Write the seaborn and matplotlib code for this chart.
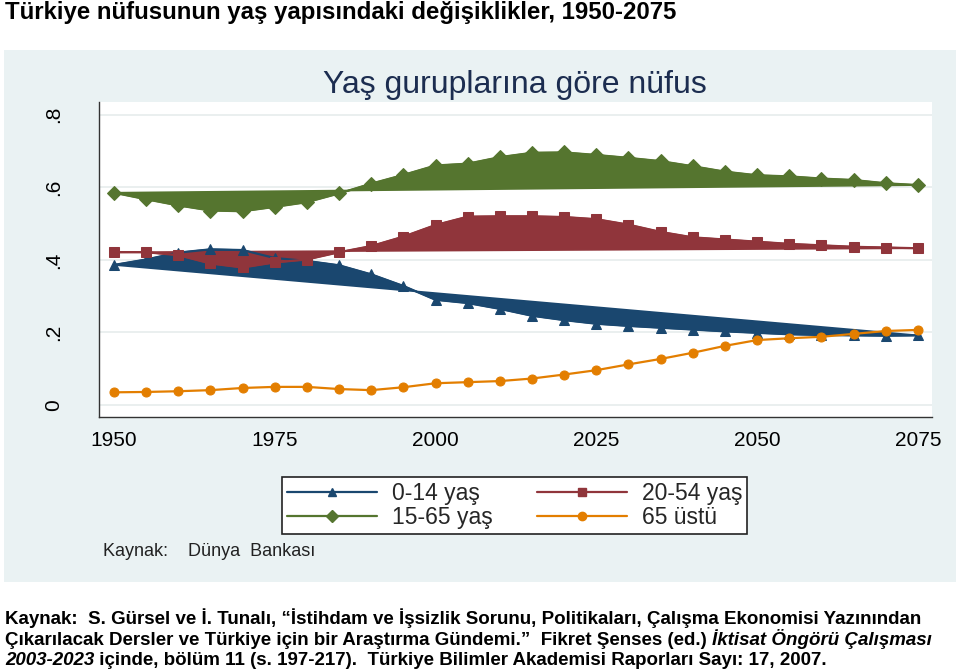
import matplotlib
matplotlib.use("Agg")
import matplotlib.pyplot as plt
import seaborn as sns
import pandas as pd
from matplotlib.lines import Line2D
from matplotlib.patches import Rectangle

sns.set_style("white")
plt.rcParams['font.family'] = ['Liberation Sans', 'DejaVu Sans']

# ---------------- data ----------------
years = [1950, 1955, 1960, 1965, 1970, 1975, 1980, 1985, 1990, 1995, 2000, 2005, 2010,
         2015, 2020, 2025, 2030, 2035, 2040, 2045, 2050, 2055, 2060, 2065, 2070, 2075]
age_0_14 = [0.386, 0.401, 0.420, 0.429, 0.427, 0.405, 0.397, 0.385, 0.360, 0.328, 0.290, 0.281, 0.265,
            0.246, 0.234, 0.224, 0.218, 0.213, 0.208, 0.203, 0.199, 0.195, 0.193, 0.192, 0.191, 0.192]
age_20_54 = [0.421, 0.421, 0.413, 0.390, 0.379, 0.393, 0.401, 0.421, 0.438, 0.464, 0.496, 0.519, 0.520,
             0.520, 0.518, 0.512, 0.497, 0.477, 0.462, 0.456, 0.450, 0.444, 0.440, 0.436, 0.434, 0.432]
age_15_65 = [0.585, 0.567, 0.550, 0.536, 0.534, 0.546, 0.559, 0.583, 0.610, 0.634, 0.660, 0.665, 0.683,
             0.695, 0.696, 0.689, 0.681, 0.672, 0.658, 0.643, 0.633, 0.630, 0.624, 0.620, 0.611, 0.606]
age_65p = [0.035, 0.036, 0.038, 0.041, 0.047, 0.050, 0.050, 0.044, 0.041, 0.049, 0.060, 0.063, 0.066,
           0.073, 0.084, 0.096, 0.112, 0.127, 0.144, 0.163, 0.179, 0.184, 0.188, 0.196, 0.204, 0.207]

series_labels = ["0-14 yaş", "20-54 yaş", "15-65 yaş", "65 üstü"]
series_colors = ["#1a476f", "#90353b", "#55752f", "#e37e00"]
series_markers = ["^", "s", "D", "o"]
series_filled = [True, True, True, False]

x_ticks = [1950, 1975, 2000, 2025, 2050, 2075]
y_ticks = [0, 0.2, 0.4, 0.6, 0.8]
y_tick_labels = ["0", ".2", ".4", ".6", ".8"]

fig_title = "Türkiye nüfusunun yaş yapısındaki değişiklikler, 1950-2075"
subtitle = "Yaş guruplarına göre nüfus"
note = "Kaynak:    Dünya  Bankası"
caption_lines = [
    [("Kaynak:  S. Gürsel ve İ. Tunalı, “İstihdam ve İşsizlik Sorunu, Politikaları, Çalışma Ekonomisi Yazınından", "normal")],
    [("Çıkarılacak Dersler ve Türkiye için bir Araştırma Gündemi.”  Fikret Şenses (ed.) ", "normal"),
     ("İktisat Öngörü Çalışması", "italic")],
    [("2003-2023", "italic"),
     (" içinde, bölüm 11 (s. 197-217).  Türkiye Bilimler Akademisi Raporları Sayı: 17, 2007.", "normal")],
]

df = pd.DataFrame({"year": years, series_labels[0]: age_0_14, series_labels[1]: age_20_54,
                   series_labels[2]: age_15_65, series_labels[3]: age_65p})
long = df.melt(id_vars="year", var_name="group", value_name="share")

# ---------------- figure ----------------
W, H = 960, 670
fig = plt.figure(figsize=(W / 100, H / 100), dpi=100)
fig.patch.set_facecolor("white")
fig.patches.append(Rectangle((4 / W, 1 - 582 / H), (956 - 4) / W, (582 - 50) / H,
                             transform=fig.transFigure, facecolor="#eaf2f3",
                             edgecolor="none", zorder=-10))

ax = fig.add_axes([99 / W, 1 - 417 / H, (932 - 99) / W, (417 - 102) / H])
ax.set_facecolor("white")
ax.set_zorder(1)

for lab, col, mk, filled in zip(series_labels, series_colors, series_markers, series_filled):
    sub = long[long["group"] == lab]
    if filled:
        ax.fill(sub["year"], sub["share"], color=col, lw=1.2, zorder=2)
    sns.lineplot(data=sub, x="year", y="share", color=col, marker=mk,
                 markersize=7.5 if mk != "o" else 6.5,
                 markeredgecolor=col, lw=1.6, ax=ax, zorder=3, legend=False)

ax.set_xlim(1947.67, 2077.2)
ax.set_ylim(-0.033, 0.835)
ax.set_xticks(x_ticks)
ax.set_xticklabels([str(t) for t in x_ticks])
ax.set_yticks(y_ticks)
ax.set_yticklabels(y_tick_labels, rotation=90, va="center")
ax.set_xlabel("")
ax.set_ylabel("")
ax.tick_params(axis="both", direction="out", length=6, width=1, color="#333333",
               labelsize=15, labelcolor="black")
ax.tick_params(axis="x", pad=4)
ax.tick_params(axis="y", pad=19.5)
ax.yaxis.grid(True, color="#e6ecec", lw=1.2)
ax.xaxis.grid(False)
ax.set_axisbelow(True)
for s in ["top", "right"]:
    ax.spines[s].set_visible(False)
for s in ["left", "bottom"]:
    ax.spines[s].set_color("#333333")
    ax.spines[s].set_linewidth(1)

# title / subtitle / note
fig.text(5 / W, 1 - 13 / H, fig_title, ha="left", va="center", fontsize=17.3, fontweight="bold",
         color="black")
fig.text(515 / W, 1 - 85 / H, subtitle, ha="center", va="center", fontsize=23, color="#1c2d50")
fig.text(103 / W, 1 - 552 / H, note, ha="left", va="center", fontsize=13, color="#222222")

# legend
handles = []
for i in [0, 2, 1, 3]:
    handles.append(Line2D([], [], color=series_colors[i], marker=series_markers[i], markersize=6,
                          lw=1.6, label=series_labels[i]))
leg = fig.legend(handles=handles, ncol=2, loc="center", bbox_to_anchor=(514.5 / W, 1 - 505.5 / H),
                 frameon=True, fancybox=False, edgecolor="#222222", framealpha=1, fontsize=16.5,
                 handlelength=3.93, handletextpad=0.65, columnspacing=1.95, borderpad=0.22,
                 labelspacing=0.05)
leg.get_frame().set_linewidth(1.2)

# caption with mixed italic, fit line 1 to ~920 px
fig.canvas.draw()
renderer = fig.canvas.get_renderer()
cap_size = 12.5
probe = fig.text(0, 0, caption_lines[0][0][0], fontsize=cap_size, fontweight="bold")
wpx = probe.get_window_extent(renderer).width
probe.remove()
cap_size = cap_size * 920 / wpx
baselines = [624, 645, 665]
for segs, yb in zip(caption_lines, baselines):
    xpx = 5
    for txt, style in segs:
        t = fig.text(xpx / W, 1 - yb / H, txt, ha="left", va="baseline", fontsize=cap_size,
                     fontweight="bold", fontstyle=style, color="black")
        xpx += t.get_window_extent(renderer).width

fig.savefig("out.png", dpi=100)
